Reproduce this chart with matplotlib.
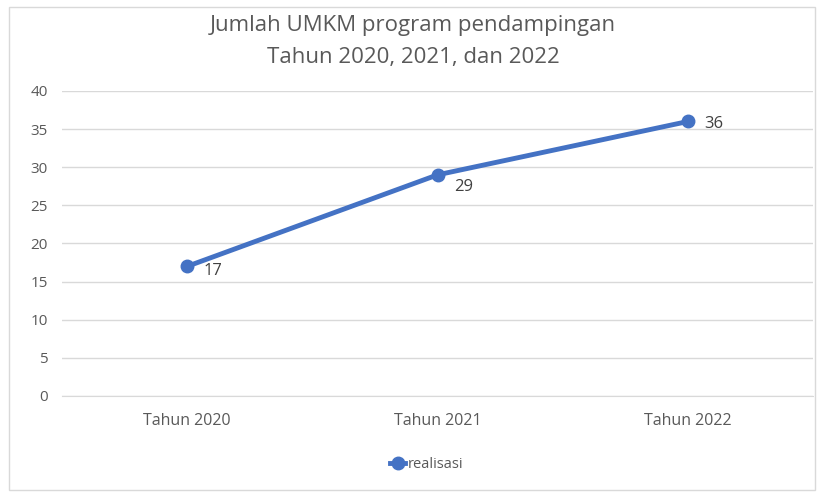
import matplotlib.pyplot as plt
from matplotlib.patches import Rectangle
from matplotlib.lines import Line2D

plt.rcParams['font.family'] = ['Open Sans', 'DejaVu Sans']

categories = ['Tahun 2020', 'Tahun 2021', 'Tahun 2022']
realisasi = [17, 29, 36]
yticks = [0, 5, 10, 15, 20, 25, 30, 35, 40]

fig = plt.figure(figsize=(8.21, 4.93), dpi=100)
ax = fig.add_axes([0.0755, 0.1968, 0.915, 0.6187])

# chart border
fig.patches.append(Rectangle((9 / 821, 1 - 490 / 493), 806 / 821, 483 / 493,
                             transform=fig.transFigure, fill=False,
                             edgecolor='#d9d9d9', linewidth=1))

x = list(range(len(categories)))
ax.plot(x, realisasi, color='#4472C4', linewidth=3.5, marker='o',
        markersize=9, label='realisasi', solid_capstyle='round')
# label offsets (points), the middle label sits a bit lower like in excel
offsets = [(12, -3), (12, -9), (12, -2)]
for xi, v, off in zip(x, realisasi, offsets):
    ax.annotate(str(v), (xi, v), xytext=off, textcoords='offset points',
                va='center', ha='left', fontsize=12, color='#404040')

ax.set_xlim(-0.5, 2.5)
ax.set_ylim(0, 40)
ax.set_yticks(yticks)
ax.set_xticks(x)
ax.set_xticklabels(categories)
ax.grid(axis='y', color='#d9d9d9', linewidth=1)
ax.set_axisbelow(True)
for s in ['top', 'right', 'left']:
    ax.spines[s].set_visible(False)
ax.spines['bottom'].set_color('#d9d9d9')
ax.tick_params(axis='both', length=0, colors='#595959')
ax.tick_params(axis='x', pad=12, labelsize=11.5)
ax.tick_params(axis='y', pad=10, labelsize=11)

fig.text(0.503, 1 - 26 / 493, 'Jumlah UMKM program pendampingan', ha='center',
         va='center', fontsize=16, color='#595959')
fig.text(0.503, 1 - 57 / 493, 'Tahun 2020, 2021, dan 2022', ha='center',
         va='center', fontsize=16, color='#595959')

handle = Line2D([], [], color='#4472C4', linewidth=3.5, marker='o', markersize=9)
fig.legend([handle], ['realisasi'], loc='center', bbox_to_anchor=(0.52, 1 - 465 / 493),
           frameon=False, fontsize=10.5, labelcolor='#595959', handlelength=1.0,
           handletextpad=0.2)

fig.savefig('out.png', dpi=100)
